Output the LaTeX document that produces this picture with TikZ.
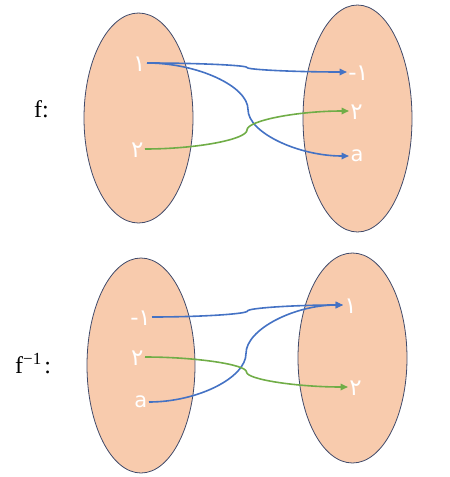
\documentclass[tikz,border=0pt]{standalone}
\usepackage{fontspec}
\setmainfont{Liberation Serif}
\newfontfamily\arfont[Script=Arabic]{DejaVu Sans}
\newfontfamily\labfont{DejaVu Sans}
\usetikzlibrary{shapes.geometric,arrows.meta,calc}
\definecolor{peach}{HTML}{F8CBAD}
\definecolor{rim}{HTML}{404A6A}
\definecolor{oblue}{HTML}{4472C4}
\definecolor{ogreen}{HTML}{70AD47}
\tikzset{
  setshape/.style={ellipse,draw=rim,line width=0.8pt,fill=peach,inner sep=0pt},
  digit/.style={text=white,font=\arfont\fontsize{23}{23}\selectfont,inner sep=1.2pt,text height=16pt,text depth=0pt},
  letter/.style={text=white,font=\labfont\fontsize{21}{21}\selectfont,inner sep=1.5pt,text height=11.5pt,text depth=0pt},
  fname/.style={font=\fontsize{24}{24}\selectfont,inner sep=0pt},
  conn/.style={line width=1.6pt,-{Triangle[length=7.5pt,width=6.5pt]}},
  curved/.style={to path={
    let \p1=(\tikztostart), \p2=(\tikztotarget) in
    .. controls ({\x1+0.25*(\x2-\x1)},\y1) and ({0.5*(\x1+\x2)},{\y1+0.25*(\y2-\y1)}) ..
    ({0.5*(\x1+\x2)},{0.5*(\y1+\y2)})
    .. controls ({0.5*(\x1+\x2)},{\y1+0.75*(\y2-\y1)}) and ({\x1+0.75*(\x2-\x1)},\y2) ..
    (\tikztotarget)}}
}
\begin{document}
\begin{tikzpicture}[x=1pt,y=-1pt]
\useasboundingbox (0,0) rectangle (450,477);
% sets
\node[setshape,minimum width=109pt,minimum height=210pt] (A) at (138.5,118) {};
\node[setshape,minimum width=109pt,minimum height=227pt] (B) at (357.5,118.5) {};
\node[setshape,minimum width=108pt,minimum height=215pt] (C) at (141,365.5) {};
\node[setshape,minimum width=109pt,minimum height=210pt] (D) at (352.5,358) {};
% function names
\node[fname,anchor=base west] (f1) at (34,117) {f:};
\node[fname,anchor=base west] (f2) at (15,373) {f\raisebox{8.5pt}{\fontsize{17}{17}\selectfont −1}\kern3pt:};
% top labels
\node[digit,anchor=east] (a1) at (147,63) {١};
\node[digit,anchor=east] (a2) at (145,149) {٢};
\node[digit,anchor=west] (b1) at (347,72) {{\labfont -}\kern-0.5pt{\arfont ١}};
\node[digit,anchor=west] (b2) at (349,111) {٢};
\node[letter,anchor=west] (b3) at (349,156) {a};
% bottom labels
\node[digit,anchor=east] (c1) at (152,317) {{\labfont -}\kern-0.5pt{\arfont ١}};
\node[digit,anchor=east] (c2) at (145,357) {٢};
\node[letter,anchor=east] (c3) at (149,402) {a};
\node[digit,anchor=west] (d1) at (343,305) {١};
\node[digit,anchor=west] (d2) at (348,387) {٢};
% connectors top
\draw[conn,oblue] (a1.east) to[curved] (b1.west);
\draw[conn,oblue] (a1.east) to[curved] (b3.west);
\draw[conn,ogreen] (a2.east) to[curved] (b2.west);
% connectors bottom
\draw[conn,oblue] (c1.east) to[curved] (d1.west);
\draw[conn,oblue] (c3.east) to[curved] (d1.west);
\draw[conn,ogreen] (c2.east) to[curved] (d2.west);
\end{tikzpicture}
\end{document}
